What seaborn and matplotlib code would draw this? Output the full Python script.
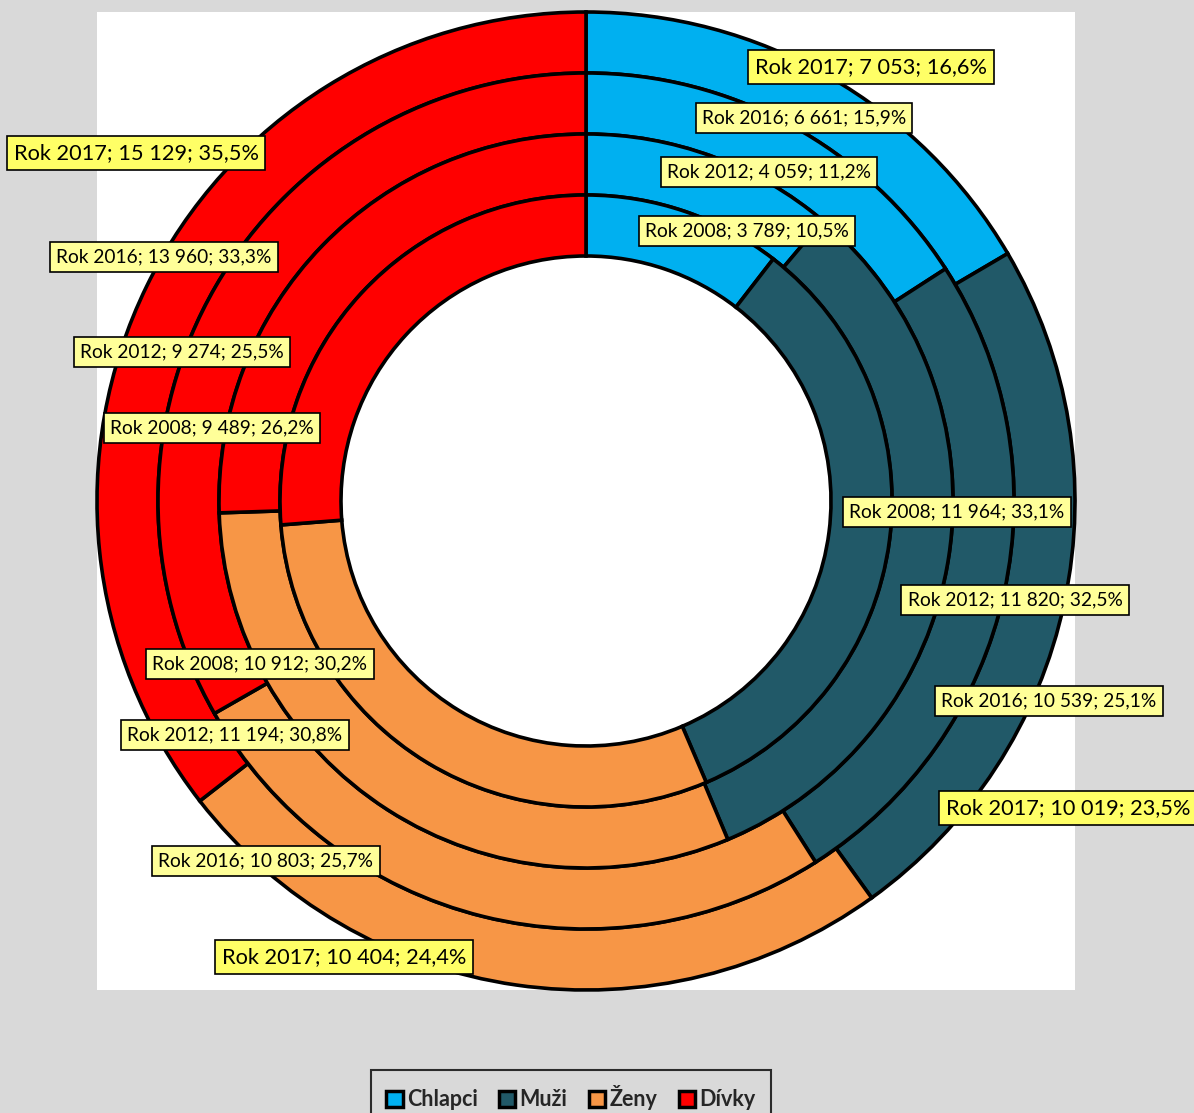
import numpy as np
import matplotlib.pyplot as plt
import seaborn as sns
from matplotlib.patches import Patch

categories = ["Chlapci", "Muži", "Ženy", "Dívky"]
years = ["2008", "2012", "2016", "2017"]
v2008 = [3789, 11964, 10912, 9489]
v2012 = [4059, 11820, 11194, 9274]
v2016 = [6661, 10539, 10803, 13960]
v2017 = [7053, 10019, 10404, 15129]
series = [v2008, v2012, v2016, v2017]

colors = ["#00B0F0", "#215968", "#F79646", "#FF0000"]

# label box centres in pixels of the figure (x, y from top)
label_px = {
    "2017": [(871, 67), (1068, 808), (344, 957), (136, 153)],
    "2016": [(804, 118), (1049, 701), (266, 861), (164, 257)],
    "2012": [(769, 172), (1015, 600), (235, 735), (182, 352)],
    "2008": [(747, 231), (957, 512), (260, 664), (212, 428)],
}

W, H = 1194, 1113
sns.set_theme(style="white")
plt.rcParams['font.family'] = ['Lato', 'DejaVu Sans']

fig = plt.figure(figsize=(W / 100, H / 100), dpi=100, facecolor="#D9D9D9")
ax = fig.add_axes([97 / W, 1 - 990 / H, 978 / W, 978 / H])

R = 1.0
ring = 61 / 489
for i, vals in enumerate(series[::-1]):
    r = R - i * ring
    ax.pie(vals, radius=r, colors=colors, startangle=90, counterclock=False,
           wedgeprops=dict(width=ring, edgecolor="black", linewidth=2.6))

ax.set_xlim(-1, 1)
ax.set_ylim(-1, 1)
ax.set_aspect("equal")
ax.set_frame_on(True)
ax.set_facecolor("white")
for s in ax.spines.values():
    s.set_visible(False)
ax.set_xticks([])
ax.set_yticks([])

cx, cy = 586, 501
for year, vals in zip(years, series):
    total = sum(vals)
    big = year == "2017"
    for j, v in enumerate(vals):
        px, py = label_px[year][j]
        x = (px - cx) / 489
        y = (cy - py) / 489
        pct = f"{v / total * 100:.1f}".replace(".", ",")
        num = f"{v:,}".replace(",", " ")
        txt = f"Rok {year}; {num}; {pct}%"
        ax.text(x, y, txt, ha="center", va="center",
                fontsize=15.7 if big else 13.8, color="black", clip_on=False,
                bbox=dict(boxstyle="square,pad=0.32",
                          fc="#FFFF66" if big else "#FFFF99", ec="black", lw=1.2))

handles = [Patch(facecolor=c, edgecolor="black", linewidth=2.5, label=l)
           for c, l in zip(colors, categories)]
leg = fig.legend(handles=handles, loc="center", bbox_to_anchor=(571 / W, 1 - 1098 / H),
                 ncol=4, frameon=True, fancybox=False, handlelength=0.75, handleheight=0.75,
                 handletextpad=0.2, columnspacing=1.0, borderpad=0.7, borderaxespad=0,
                 prop=dict(weight="bold", size=15.5))
leg.get_frame().set_edgecolor("black")
leg.get_frame().set_linewidth(1.5)
leg.get_frame().set_facecolor("#D9D9D9")

fig.savefig("out.png", dpi=100, facecolor=fig.get_facecolor())
